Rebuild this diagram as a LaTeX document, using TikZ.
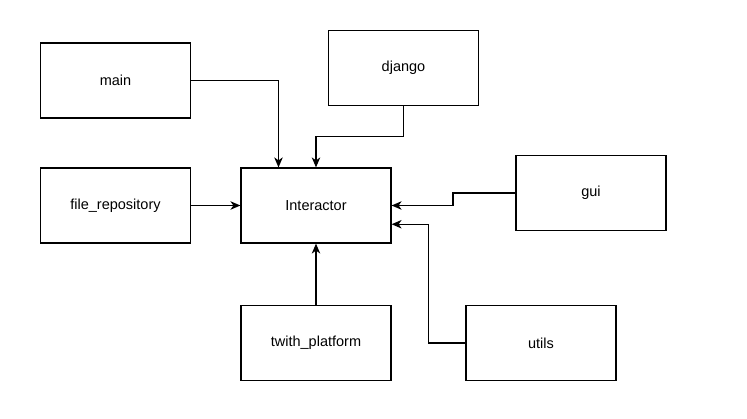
\documentclass[tikz,border=0pt]{standalone}
\usepackage{fontspec}
\setmainfont{Liberation Sans}
\usetikzlibrary{arrows.meta}
\begin{document}
\begin{tikzpicture}[x=1pt,y=-1pt,
  box/.style={draw=black,line width=1.2pt,rectangle,minimum width=150pt,minimum height=75pt,inner sep=0pt,font=\fontsize{14.5}{17}\selectfont},
  conn/.style={draw=black,line width=1.2pt,-{Stealth[length=10pt,width=8.5pt,inset=3pt]}}]
\useasboundingbox[fill=white] (0,0) rectangle (747,419);
\node[box] (main) at (115.5,80.5) {main};
\node[box] (django) at (403.5,68) {django};
\node[box] (filerepo) at (115.5,205.5) {file\_repository};
\node[box] (inter) at (316,205.5) {Interactor};
\node[box] (gui) at (591,193) {gui};
\node[box] (twith) at (316,343) {twith\_platform};
\node[box] (utils) at (541,343) {utils};
\draw[conn] (main.east) -| ([xshift=-37.5pt]inter.north);
\draw[conn] (django.south) -- ++(0,30.5) -| (inter.north);
\draw[conn] (filerepo.east) -- (inter.west);
\draw[conn] (gui.west) -- ++(-62.5,0) |- (inter.east);
\draw[conn] (utils.west) -- ++(-37,0) |- ([yshift=-18.75pt]inter.east);
\draw[conn] (twith.north) -- (inter.south);
\end{tikzpicture}
\end{document}
